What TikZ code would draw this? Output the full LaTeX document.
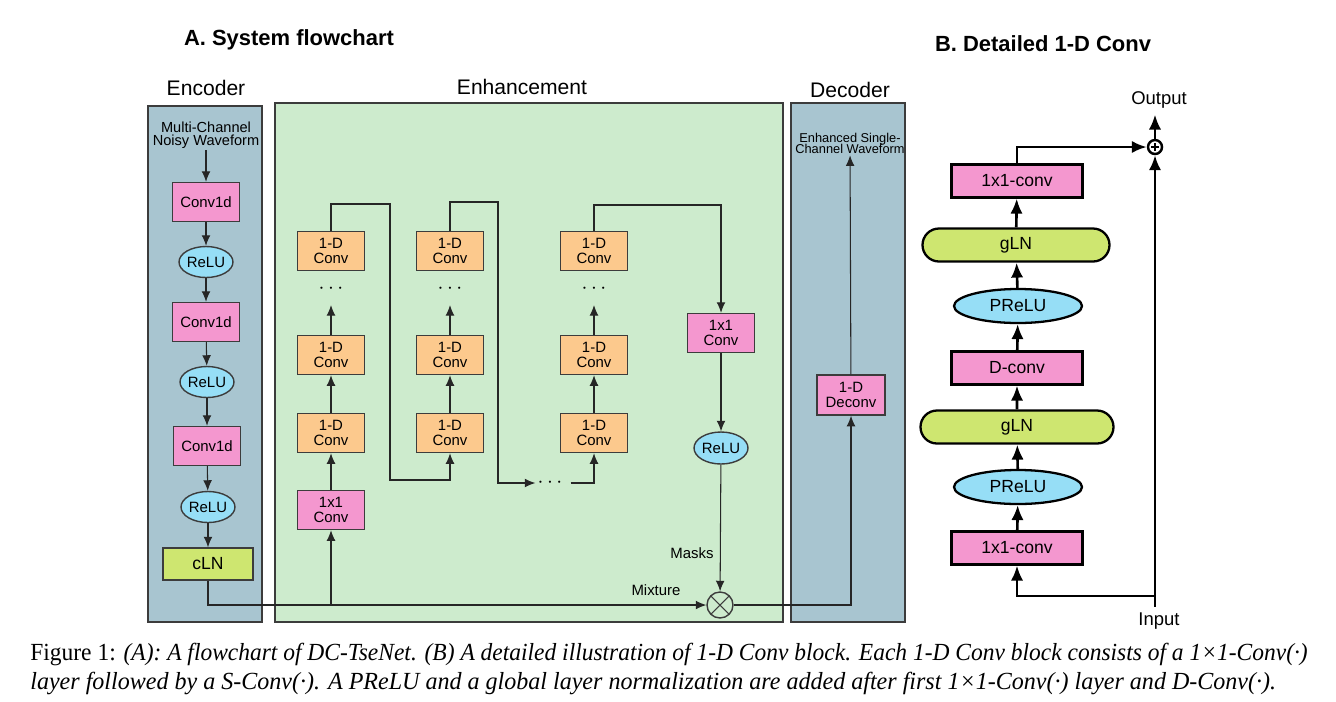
\documentclass[tikz,border=0pt]{standalone}
\usepackage{fontspec}
\setmainfont{Liberation Serif}
\setsansfont{Liberation Sans}
\usepackage{graphicx}
\definecolor{conv-pink}{RGB}{244,151,207}
\definecolor{conv-orange}{RGB}{252,201,141}
\definecolor{relu-blue}{RGB}{150,222,246}
\definecolor{norm-green}{RGB}{206,230,112}
\definecolor{panel-blue}{RGB}{168,197,208}
\definecolor{panel-green}{RGB}{205,235,205}
\definecolor{edge-grey}{RGB}{60,60,60}
\usetikzlibrary{arrows.meta}
\usetikzlibrary{calc}
\usetikzlibrary{shapes.geometric}
\usetikzlibrary{shapes.misc}
\newcommand\px{0.02cm}
\newcommand\fs[1]{\fontsize{#1}{#1}\selectfont}

\begin{document}
\begin{tikzpicture}[%
            x=0.02cm,y=-0.02cm,
            font=\sffamily,
            >={Latex[length=6pt,width=5pt]},
            panel/.style={draw=edge-grey,line width=0.6pt},
            block/.style={draw=edge-grey,line width=0.8pt,align=center,inner sep=0pt,
              minimum width=67*\px,minimum height=39*\px,font=\sffamily\fs{8.5}},
            pinkblock/.style={block,fill=conv-pink},
            orangeblock/.style={block,fill=conv-orange},
            relu/.style={block,ellipse,fill=relu-blue,minimum width=50*\px,minimum height=31*\px},
            normblock/.style={block,fill=norm-green,minimum width=90*\px,minimum height=32*\px,font=\sffamily\fs{10}},
            link/.style={line width=0.6pt,draw=black!85},
            note/.style={align=center,inner sep=1pt},
            dotrow/.style={inner sep=0pt,font=\fs{12}},
            bblock/.style={draw=black,line width=1.3pt,inner sep=0pt,
              minimum width=131*\px,minimum height=33*\px,font=\sffamily\fs{10}},
            bconv/.style={bblock,fill=conv-pink},
            bprelu/.style={bblock,ellipse,fill=relu-blue,minimum width=128*\px,minimum height=34*\px},
            bgln/.style={bblock,rounded rectangle,fill=norm-green,minimum width=191*\px},
            blink/.style={line width=1.5pt,>={Latex[length=8.5pt,width=7pt]}}
          ]
            \useasboundingbox (0,0) rectangle (1336,701);

            % titles
            \node [font=\sffamily\bfseries\fs{12.5}] (titleA) at (289,40) {A. System flowchart};
            \node [font=\sffamily\bfseries\fs{12.5}] (titleB) at (1043,44) {B. Detailed 1-D Conv};

            % panels
            \path [panel,fill=panel-blue] (148,106) rectangle (262,622);
            \path [panel,fill=panel-green] (275,103) rectangle (783,622);
            \path [panel,fill=panel-blue] (791,103) rectangle (905,622);
            \node [font=\sffamily\fs{12}] (encoder) at (206,88) {Encoder};
            \node [font=\sffamily\fs{12}] (enhancement) at (522,87) {Enhancement};
            \node [font=\sffamily\fs{12}] (decoder) at (850,90) {Decoder};

            % encoder
            \node [note,font=\sffamily\fs{8.3}] (noisy) at (206,135) {Multi-Channel\\[-1pt]Noisy Waveform};
            \node [pinkblock] (enc1) at (206,202) {Conv1d};
            \node [relu] (relu1) at (206,262) {ReLU};
            \node [pinkblock] (enc2) at (206,322) {Conv1d};
            \node [relu] (relu2) at (207,382) {ReLU};
            \node [pinkblock] (enc3) at (207,446) {Conv1d};
            \node [relu] (relu3) at (208,507) {ReLU};
            \node [normblock] (cln) at (208,564) {cLN};
            \draw [link,->] (noisy) -- (enc1);
            \draw [link,->] (enc1) -- (relu1);
            \draw [link,->] (relu1) -- (enc2);
            \draw [link,->] (enc2) -- (relu2);
            \draw [link,->] (relu2) -- (enc3);
            \draw [link,->] (enc3) -- (relu3);
            \draw [link,->] (relu3) -- (cln);

            % enhancement
            \node [pinkblock] (in1x1) at (331,510) {1x1\\Conv};
            \foreach \c/\x in {1/331,2/450,3/594} {%
              \node [orangeblock] (conv\c-a) at (\x,433) {1-D\\Conv};
              \node [orangeblock] (conv\c-b) at (\x,355) {1-D\\Conv};
              \node [orangeblock] (conv\c-c) at (\x,251) {1-D\\Conv};
              \node [dotrow] (dots\c) at (\x,289) {$\cdots$};
              \coordinate (dotsin\c) at (\x,305);
              \draw [link,->] (conv\c-a) -- (conv\c-b);
              \draw [link,->] (conv\c-b) -- (dotsin\c);
            }
            \node [dotrow] (skipdots) at (550,483) {$\cdots$};
            \coordinate (hop1top) at (390,204);
            \coordinate (hop1bot) at (390,480);
            \coordinate (hop2top) at (498,202);
            \coordinate (hop2bot) at (498,483);
            \coordinate (hop3top) at (721,205);
            \node [pinkblock] (out1x1) at (721,333) {1x1\\Conv};
            \node [relu,minimum width=48*\px,minimum height=32*\px] (relu4) at (721,448) {ReLU};
            \node [circle,draw=edge-grey,line width=0.8pt,minimum size=26*\px,inner sep=0pt,
              path picture={\draw [line width=0.6pt] (path picture bounding box.north west) -- (path picture bounding box.south east)
                (path picture bounding box.north east) -- (path picture bounding box.south west);}] (mult) at (720,605) {};
            \node [font=\sffamily\fs{8.5}] (mixture) at (656,590) {Mixture};
            \node [font=\sffamily\fs{8.5}] (masks) at (692,553) {Masks};

            \draw [link,->] (cln.south) |- (mult.west);
            \draw [link,->] (in1x1 |- mult) -- (in1x1);
            \draw [link,->] (in1x1) -- (conv1-a);
            \draw [link,->] (conv1-c.north) |- (hop1top) -- (hop1bot) -| (conv2-a.south);
            \draw [link,->] (conv2-c.north) |- (hop2top) -- (hop2bot) -- ([xshift=-2*\px]skipdots.west);
            \draw [link,->] ([xshift=8*\px]skipdots.east) -| (conv3-a.south);
            \draw [link,->] (conv3-c.north) |- (hop3top) -- (out1x1.north);
            \draw [link,->] (out1x1) -- (relu4);
            \draw [link,->] (relu4) -- (mult);

            % decoder
            \node [pinkblock,minimum width=68*\px,minimum height=40*\px] (deconv) at (851,395) {1-D\\Deconv};
            \node [note,font=\sffamily\fs{7.3}] (enhanced) at (850,143) {Enhanced Single-\\[-1pt]Channel Waveform};
            \draw [link,->] (mult.east) -| (deconv.south);
            \draw [link,->] (deconv) -- (enhanced);

            % detailed 1-D conv block
            \node [bconv] (b1) at (1017,548) {1x1-conv};
            \node [bprelu] (b2) at (1018,487) {PReLU};
            \node [bgln,minimum width=193*\px] (b3) at (1017,427) {gLN};
            \node [bconv] (b4) at (1017,368) {D-conv};
            \node [bprelu] (b5) at (1018,306) {PReLU};
            \node [bgln,minimum width=187*\px] (b6) at (1016,245) {gLN};
            \node [bconv] (b7) at (1017,181) {1x1-conv};
            \node [circle,draw=black,line width=1.4pt,minimum size=14*\px,inner sep=0pt,
              path picture={\draw [line width=1.2pt] ([xshift=-4*\px]path picture bounding box.center) -- ([xshift=4*\px]path picture bounding box.center)
                ([yshift=-4*\px]path picture bounding box.center) -- ([yshift=4*\px]path picture bounding box.center);}] (plus) at (1155,147) {};
            \node [font=\sffamily\fs{10.5}] (output) at (1159,100) {Output};
            \node [font=\sffamily\fs{10.5}] (input) at (1159,621) {Input};
            \coordinate (split) at (1155,596);

            \foreach \a/\b in {b1/b2,b2/b3,b3/b4,b4/b5,b5/b6,b6/b7}
              \draw [blink,->] (\a) -- (\b);
            \draw [blink,->] (plus |- input.north) -- (plus.south);
            \draw [blink,->] (split) -| (b1.south);
            \draw [blink,->] (b7.north) |- (plus.west);
            \draw [blink,->] (plus.north) -- (plus |- output.south);

            % caption
            \node [anchor=base west,inner sep=0pt,font=\rmfamily\fs{14}] (caption1) at (30,660)
              {\resizebox{727pt}{\height}{Figure 1: \textit{(A): A flowchart of DC-TseNet. (B) A detailed illustration of 1-D Conv block. Each 1-D Conv block consists of a 1×1-Conv(·)}}};
            \node [anchor=base west,inner sep=0pt,font=\rmfamily\fs{14}] (caption2) at (30,689)
              {\resizebox{709pt}{\height}{\textit{layer followed by a S-Conv(·). A PReLU and a global layer normalization are added after first 1×1-Conv(·) layer and D-Conv(·).}}};
          \end{tikzpicture}
\end{document}
